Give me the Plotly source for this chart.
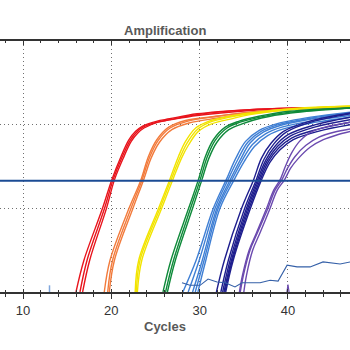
import plotly.graph_objects as go

# ---------------- data (cycle, fluorescence level on a 0..3 scale) ----------------
RED = [
    [(16.0, 0), (16.9, 0.38), (19.0, 1.0), (20.05, 1.34), (21.1, 1.62), (22.0, 1.82), (22.75, 1.92), (23.5, 1.98), (25.1, 2.04), (26.6, 2.07), (29.7, 2.13), (35.7, 2.18), (41.4, 2.20), (47.1, 2.21)],
    [(16.45, 0), (17.25, 0.38), (19.23, 1.0), (20.19, 1.34), (21.21, 1.61), (22.12, 1.81), (22.85, 1.91), (23.6, 1.97), (25.2, 2.03), (26.65, 2.06), (29.7, 2.12), (35.7, 2.18), (41.4, 2.20), (47.1, 2.21)],
    [(16.75, 0), (17.55, 0.38), (19.45, 1.0), (20.35, 1.34), (21.35, 1.6), (22.25, 1.8), (23.0, 1.9), (23.7, 1.96), (25.3, 2.03), (26.8, 2.06), (29.7, 2.11), (35.7, 2.17), (41.4, 2.20), (47.1, 2.21)],
]
ORANGE = [
    [(19.2, 0), (19.85, 0.38), (22.0, 1.0), (23.35, 1.34), (24.2, 1.62), (25.15, 1.82), (26.5, 1.97), (28.4, 2.05), (31.9, 2.1), (35.7, 2.15), (41.4, 2.19), (47.1, 2.21)],
    [(19.59, 0), (20.14, 0.38), (22.23, 1.0), (23.48, 1.34), (24.33, 1.61), (25.29, 1.81), (26.65, 1.96), (28.57, 2.04), (31.97, 2.1), (35.7, 2.15), (41.4, 2.19), (47.1, 2.21)],
    [(19.77, 0), (20.35, 0.38), (22.45, 1.0), (23.65, 1.34), (24.5, 1.6), (25.45, 1.79), (26.85, 1.94), (28.8, 2.02), (32.1, 2.08), (35.7, 2.14), (41.4, 2.19), (47.1, 2.21)],
]
YELLOW = [
    [(22.7, 0), (23.1, 0.38), (25.35, 1.0), (26.6, 1.34), (27.6, 1.62), (28.4, 1.8), (29.55, 1.96), (31.0, 2.04), (33.3, 2.1), (35.7, 2.14), (41.4, 2.2), (47.1, 2.22)],
    [(22.83, 0), (23.25, 0.38), (25.51, 1.0), (26.76, 1.34), (27.78, 1.61), (28.57, 1.78), (29.7, 1.94), (31.18, 2.03), (33.44, 2.09), (35.7, 2.13), (41.4, 2.19), (47.1, 2.22)],
    [(22.95, 0), (23.45, 0.38), (25.7, 1.0), (26.95, 1.34), (27.95, 1.6), (28.75, 1.76), (29.85, 1.92), (31.35, 2.01), (33.6, 2.07), (35.7, 2.12), (41.4, 2.19), (47.1, 2.22)],
]
GREEN = [
    [(25.85, 0), (26.75, 0.38), (28.75, 1.0), (29.85, 1.34), (30.65, 1.62), (31.55, 1.82), (32.9, 1.97), (34.4, 2.04), (36.7, 2.1), (40.2, 2.16), (47.1, 2.2)],
    [(26.14, 0), (27.04, 0.38), (28.97, 1.0), (30.05, 1.34), (30.84, 1.61), (31.74, 1.81), (33.1, 1.96), (34.58, 2.03), (36.84, 2.09), (40.24, 2.15), (47.1, 2.2)],
    [(26.35, 0), (27.25, 0.38), (29.2, 1.0), (30.25, 1.34), (31.05, 1.6), (31.95, 1.79), (33.3, 1.94), (34.8, 2.01), (37.0, 2.08), (40.3, 2.14), (47.1, 2.2)],
]
LIGHT_BLUE = [
    [(28.1, 0), (29.6, 0.38), (31.55, 1.0), (33.0, 1.34), (34.1, 1.6), (35.2, 1.8), (36.7, 1.93), (38.7, 2.01), (42.6, 2.09), (47.1, 2.15)],
    [(28.7, 0), (29.95, 0.38), (31.75, 1.0), (33.2, 1.34), (34.35, 1.59), (35.45, 1.79), (36.95, 1.92), (38.9, 2.0), (42.7, 2.08), (47.1, 2.14)],
    [(29.2, 0), (30.3, 0.38), (31.95, 1.0), (33.45, 1.34), (34.6, 1.58), (35.7, 1.78), (37.2, 1.91), (39.1, 1.99), (42.8, 2.07), (47.1, 2.13)],
    [(29.5, 0), (30.5, 0.38), (32.1, 1.0), (33.65, 1.34), (34.8, 1.57), (35.95, 1.76), (37.45, 1.89), (39.3, 1.97), (43.0, 2.05), (47.1, 2.11)],
    [(29.8, 0), (30.7, 0.38), (32.3, 1.0), (33.9, 1.34), (35.05, 1.56), (36.2, 1.74), (37.7, 1.87), (39.5, 1.95), (43.2, 2.03), (47.1, 2.09)],
]
NAVY = [
    [(31.9, 0), (32.8, 0.38), (34.75, 1.0), (36.1, 1.34), (37.0, 1.6), (38.1, 1.78), (39.5, 1.92), (42.4, 2.04), (47.1, 2.14)],
    [(32.4, 0), (33.25, 0.38), (35.1, 1.0), (36.4, 1.34), (37.3, 1.59), (38.4, 1.77), (39.8, 1.91), (42.6, 2.03), (47.1, 2.13)],
    [(32.6, 0), (33.45, 0.38), (35.3, 1.0), (36.55, 1.34), (37.5, 1.58), (38.6, 1.75), (40.0, 1.88), (42.8, 1.99), (47.1, 2.09)],
    [(32.75, 0), (33.6, 0.38), (35.45, 1.0), (36.7, 1.34), (37.65, 1.57), (38.8, 1.74), (40.2, 1.86), (43.0, 1.97), (47.1, 2.06)],
    [(32.85, 0), (33.7, 0.38), (35.6, 1.0), (36.85, 1.34), (37.8, 1.56), (38.95, 1.72), (40.4, 1.84), (43.2, 1.94), (47.1, 2.03)],
    [(32.95, 0), (33.8, 0.38), (35.75, 1.0), (37.0, 1.34), (37.95, 1.55), (39.1, 1.7), (40.6, 1.82), (43.4, 1.92), (47.1, 2.0)],
]
PURPLE = [
    [(34.5, 0), (34.85, 0.2), (35.6, 0.5), (36.4, 0.7), (37.5, 0.98), (38.4, 1.22), (39.1, 1.34), (39.7, 1.5), (40.4, 1.66), (41.3, 1.8), (42.4, 1.9), (44.2, 1.97), (47.1, 2.03)],
    [(34.6, 0), (34.95, 0.2), (35.7, 0.5), (36.5, 0.7), (37.65, 0.98), (38.55, 1.22), (39.3, 1.34), (39.95, 1.48), (40.8, 1.62), (42.0, 1.75), (43.5, 1.85), (45.2, 1.91), (47.1, 1.95)],
    [(35.0, 0), (35.3, 0.2), (36.0, 0.5), (36.8, 0.7), (37.9, 0.98), (38.8, 1.22), (39.6, 1.34), (40.3, 1.48), (41.2, 1.6), (42.5, 1.73), (44.0, 1.82), (45.6, 1.88), (47.1, 1.92)],
]
NOISE_CYCLES = [28.0, 28.9, 30.05, 30.95, 31.97, 32.9, 34.0, 34.8, 36.84, 37.97, 38.88, 39.9, 41.03, 42.5, 43.97, 45.9, 47.1]
NOISE_VALUES = [0.11, 0.08, 0.08, 0.155, 0.12, 0.11, 0.06, 0.11, 0.11, 0.14, 0.13, 0.32, 0.30, 0.30, 0.36, 0.335, 0.36]
BLIP_BLUE = ([13.0, 13.0], [0.0, 0.08])
BLIP_PURPLE = ([39.88, 40.0, 40.12], [0.0, 0.09, 0.0])

THRESHOLD = 1.33
X_RANGE = [7.396, 47.02]
Y_RANGE = [0, 3]

COLORS = {
    "red": "#e8141c", "orange": "#f27b3c", "yellow": "#f2e400", "green": "#0f8a3a",
    "lightblue": "#3f7fd4", "navy": "#1e1e8e", "purple": "#6b4aaf",
}

fig = go.Figure()
groups = [(RED, COLORS["red"]), (ORANGE, COLORS["orange"]), (YELLOW, COLORS["yellow"]),
          (GREEN, COLORS["green"]), (LIGHT_BLUE, COLORS["lightblue"]), (NAVY, COLORS["navy"]),
          (PURPLE, COLORS["purple"])]
for curves, color in groups:
    for c in curves:
        fig.add_trace(go.Scatter(x=[p[0] for p in c], y=[p[1] for p in c], mode="lines",
                                 line=dict(color=color, width=1.4, shape="spline", smoothing=1.0),
                                 hoverinfo="skip", showlegend=False))

fig.add_trace(go.Scatter(x=NOISE_CYCLES, y=NOISE_VALUES, mode="lines",
                         line=dict(color="#3560a8", width=1.1), hoverinfo="skip", showlegend=False))
fig.add_trace(go.Scatter(x=BLIP_BLUE[0], y=BLIP_BLUE[1], mode="lines",
                         line=dict(color="#7fa6dc", width=1.5), hoverinfo="skip", showlegend=False))
fig.add_trace(go.Scatter(x=BLIP_PURPLE[0], y=BLIP_PURPLE[1], mode="lines",
                         line=dict(color=COLORS["purple"], width=1.2), hoverinfo="skip", showlegend=False))

# dummy traces so the overlay axes exist
fig.add_trace(go.Scatter(x=[None], y=[None], xaxis="x2", yaxis="y", showlegend=False, hoverinfo="skip"))
fig.add_trace(go.Scatter(x=[None], y=[None], xaxis="x3", yaxis="y", showlegend=False, hoverinfo="skip"))

fig.add_shape(type="line", xref="paper", x0=0, x1=1, yref="y", y0=THRESHOLD, y1=THRESHOLD,
              line=dict(color="#1b4b94", width=2))

FONT = "Liberation Sans, Arial, sans-serif"
GRID_DASH = "1px,3px"
axis_common = dict(range=X_RANGE, tick0=0, dtick=10, zeroline=False)
fig.update_layout(
    width=350, height=350,
    margin=dict(l=0, r=0, t=41, b=58),
    paper_bgcolor="white", plot_bgcolor="white",
    font=dict(family=FONT, size=12, color="#333"),
    xaxis=dict(**axis_common, showline=True, linecolor="#333", linewidth=1.5,
               ticks="outside", ticklen=5, tickwidth=1.2, tickcolor="#333",
               minor=dict(dtick=2, tick0=0, ticks="outside", ticklen=3, tickwidth=1, tickcolor="#333", showgrid=False),
               showgrid=True, gridcolor="#707070", gridwidth=1.2, griddash=GRID_DASH,
               tickfont=dict(size=13, color="#333"), ticklabelstandoff=1),
    xaxis2=dict(**axis_common, overlaying="x", side="top", anchor="y", showline=True,
                linecolor="#333", linewidth=1.5, ticks="inside", ticklen=4, tickwidth=1.2, tickcolor="#333",
                minor=dict(dtick=2, tick0=0, ticks="inside", ticklen=2.5, tickwidth=1, tickcolor="#333", showgrid=False),
                showticklabels=False, showgrid=False),
    xaxis3=dict(**axis_common, overlaying="x", side="bottom", anchor="y", showline=False,
                ticks="inside", ticklen=3, tickwidth=1.2, tickcolor="#333",
                minor=dict(dtick=2, tick0=0, ticks="inside", ticklen=2, tickwidth=1, tickcolor="#333", showgrid=False),
                showticklabels=False, showgrid=False),
    yaxis=dict(range=Y_RANGE, dtick=1, showgrid=True, gridcolor="#707070", gridwidth=1.2, griddash=GRID_DASH,
               showticklabels=False, ticks="", zeroline=False, showline=False),
    annotations=[
        dict(text="<b>Amplification</b>", xref="paper", yref="paper", x=0.471, y=1.0438,
             xanchor="center", yanchor="middle", showarrow=False, font=dict(size=13, color="#595959", family=FONT)),
        dict(text="<b>Cycles</b>", xref="paper", yref="paper", x=0.471, y=-0.1394,
             xanchor="center", yanchor="middle", showarrow=False, font=dict(size=13, color="#595959", family=FONT)),
    ],
)

fig.write_html("out.html")
